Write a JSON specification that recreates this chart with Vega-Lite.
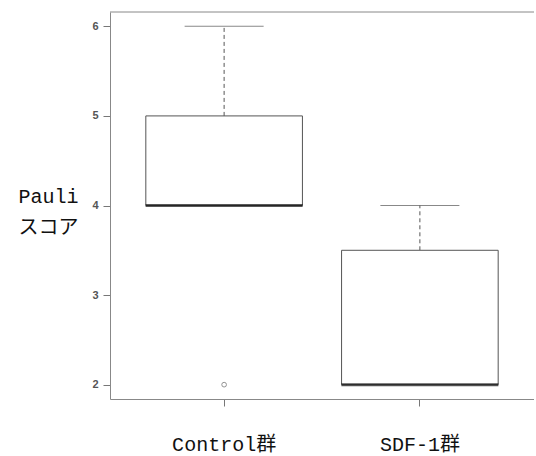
{
  "$schema": "https://vega.github.io/schema/vega-lite/v6.json",
  "autosize": "none",
  "width": 424,
  "height": 387,
  "padding": {"left": 110, "top": 12, "right": 0, "bottom": 57},
  "background": "white",
  "config": {"view": {"stroke": null}},
  "datasets": {
    "boxes": [
      {"group": "Control群", "lo": 4, "q1": 4, "med": 4, "q3": 5, "hi": 6},
      {"group": "SDF-1群", "lo": 2, "q1": 2, "med": 2, "q3": 3.5, "hi": 4}
    ],
    "outliers": [
      {"group": "Control群", "value": 2}
    ],
    "frame": [
      {"top": 6.16}
    ]
  },
  "layer": [
    {
      "data": {"name": "boxes"},
      "mark": {"type": "rule", "stroke": "#555", "strokeWidth": 1, "strokeDash": [4, 3]},
      "encoding": {
        "x": {
          "field": "group", "type": "nominal", "sort": null,
          "scale": {"paddingInner": 0.2, "paddingOuter": 0.183},
          "axis": {
            "title": null, "labelAngle": 0, "domain": true, "domainColor": "#888",
            "ticks": true, "tickSize": 7, "tickColor": "#777",
            "labelFont": "Liberation Mono, Noto Sans CJK JP", "labelFontSize": 20,
            "labelColor": "#111", "labelPadding": 28, "labelBaseline": "top"
          }
        },
        "y": {
          "field": "q3", "type": "quantitative",
          "scale": {"domain": [1.84, 6.16], "nice": false, "zero": false},
          "axis": {
            "values": [2, 3, 4, 5, 6], "format": "d", "grid": false, "domain": true, "domainColor": "#888",
            "tickSize": 7, "tickColor": "#777", "labelFont": "Liberation Sans",
            "labelFontSize": 11, "labelFontWeight": "bold", "labelColor": "#555", "labelPadding": 5,
            "title": ["Pauli", "スコア"], "titleAngle": 0, "titleX": -62, "titleY": 190,
            "titleAlign": "center", "titleBaseline": "alphabetic", "titleLineHeight": 31,
            "titleFont": "Liberation Mono, Noto Sans CJK JP", "titleFontSize": 20,
            "titleFontWeight": "normal", "titleColor": "#111"
          }
        },
        "y2": {"field": "hi"}
      }
    },
    {
      "data": {"name": "boxes"},
      "mark": {"type": "tick", "size": 79, "thickness": 1, "color": "#555"},
      "encoding": {
        "x": {"field": "group", "type": "nominal", "sort": null},
        "y": {"field": "hi", "type": "quantitative"}
      }
    },
    {
      "data": {"name": "boxes"},
      "mark": {"type": "bar", "fill": "white", "stroke": "#555", "strokeWidth": 1},
      "encoding": {
        "x": {"field": "group", "type": "nominal", "sort": null},
        "y": {"field": "q1", "type": "quantitative"},
        "y2": {"field": "q3"}
      }
    },
    {
      "data": {"name": "boxes"},
      "mark": {"type": "tick", "size": 157, "thickness": 3, "color": "#111"},
      "encoding": {
        "x": {"field": "group", "type": "nominal", "sort": null},
        "y": {"field": "med", "type": "quantitative"}
      }
    },
    {
      "data": {"name": "outliers"},
      "mark": {"type": "point", "shape": "circle", "filled": false, "size": 22, "stroke": "#666", "strokeWidth": 1},
      "encoding": {
        "x": {"field": "group", "type": "nominal", "sort": null},
        "y": {"field": "value", "type": "quantitative"}
      }
    },
    {
      "data": {"name": "frame"},
      "mark": {"type": "rule", "stroke": "#888", "strokeWidth": 1},
      "encoding": {"y": {"field": "top", "type": "quantitative"}}
    }
  ]
}
